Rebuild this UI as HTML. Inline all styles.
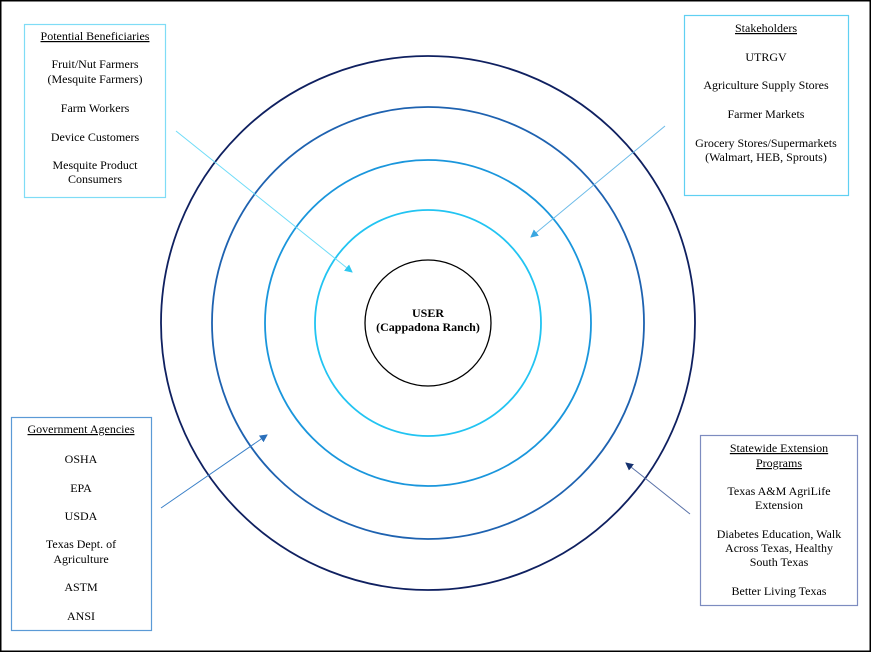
<!DOCTYPE html>
<html><head><meta charset="utf-8"><style>
html,body{margin:0;padding:0;background:#fff}
svg{display:block}
text{font-family:"Liberation Serif",serif;font-size:12px;fill:#000;text-anchor:middle}
</style></head><body>
<svg width="871" height="652" viewBox="0 0 871 652" xmlns="http://www.w3.org/2000/svg">
<defs>
<marker id="a1" markerWidth="8" markerHeight="8" refX="7" refY="4" orient="auto" markerUnits="userSpaceOnUse"><path d="M0,0 L8,4 L0,8 z" fill="#2fc8f0"/></marker>
<marker id="a2" markerWidth="8" markerHeight="8" refX="7" refY="4" orient="auto" markerUnits="userSpaceOnUse"><path d="M0,0 L8,4 L0,8 z" fill="#3aa6e0"/></marker>
<marker id="a3" markerWidth="8" markerHeight="8" refX="7" refY="4" orient="auto" markerUnits="userSpaceOnUse"><path d="M0,0 L8,4 L0,8 z" fill="#2a6fba"/></marker>
<marker id="a4" markerWidth="8" markerHeight="8" refX="7" refY="4" orient="auto" markerUnits="userSpaceOnUse"><path d="M0,0 L8,4 L0,8 z" fill="#14306e"/></marker>
</defs>
<rect x="0.75" y="0.75" width="869.5" height="650.5" fill="#fff" stroke="#000" stroke-width="1.5"/>
<circle cx="428" cy="323" r="267" fill="none" stroke="#0f2060" stroke-width="1.8"/>
<circle cx="428" cy="323" r="216" fill="none" stroke="#1e62b0" stroke-width="1.8"/>
<circle cx="428" cy="323" r="163" fill="none" stroke="#1a96dc" stroke-width="1.8"/>
<circle cx="428" cy="323" r="113" fill="none" stroke="#22c4f2" stroke-width="1.8"/>
<circle cx="428" cy="323" r="63" fill="none" stroke="#000" stroke-width="1.3"/>
<text x="428" y="317" font-weight="bold">USER</text>
<text x="428" y="331" font-weight="bold">(Cappadona Ranch)</text>

<line x1="176" y1="131" x2="352" y2="272" stroke="#6fdcf8" stroke-width="1" marker-end="url(#a1)"/>
<line x1="665" y1="126" x2="531" y2="237" stroke="#6cbbe8" stroke-width="1" marker-end="url(#a2)"/>
<line x1="161" y1="508" x2="267" y2="435" stroke="#3a80c8" stroke-width="1" marker-end="url(#a3)"/>
<line x1="690" y1="514" x2="626" y2="463" stroke="#5a72a8" stroke-width="1" marker-end="url(#a4)"/>

<rect x="24.5" y="24.5" width="141" height="173" fill="#fff" stroke="#7fdcf6" stroke-width="1.2"/>
<text x="95" y="40" text-decoration="underline">Potential Beneficiaries</text>
<text x="95" y="68">Fruit/Nut Farmers</text>
<text x="95" y="83">(Mesquite Farmers)</text>
<text x="95" y="112">Farm Workers</text>
<text x="95" y="141">Device Customers</text>
<text x="95" y="169">Mesquite Product</text>
<text x="95" y="183">Consumers</text>

<rect x="684.5" y="15.5" width="164" height="180" fill="#fff" stroke="#5fd0f2" stroke-width="1.2"/>
<text x="766" y="32" text-decoration="underline">Stakeholders</text>
<text x="766" y="61">UTRGV</text>
<text x="766" y="89">Agriculture Supply Stores</text>
<text x="766" y="118">Farmer Markets</text>
<text x="766" y="147">Grocery Stores/Supermarkets</text>
<text x="766" y="161">(Walmart, HEB, Sprouts)</text>

<rect x="11.5" y="417.5" width="140" height="213" fill="#fff" stroke="#5b9ad6" stroke-width="1.2"/>
<text x="81" y="433" text-decoration="underline">Government Agencies</text>
<text x="81" y="463">OSHA</text>
<text x="81" y="492">EPA</text>
<text x="81" y="520">USDA</text>
<text x="81" y="548">Texas Dept. of</text>
<text x="81" y="563">Agriculture</text>
<text x="81" y="591">ASTM</text>
<text x="81" y="620">ANSI</text>

<rect x="700.5" y="435.5" width="157" height="170" fill="#fff" stroke="#7d8cc0" stroke-width="1.2"/>
<text x="779" y="452" text-decoration="underline">Statewide Extension</text>
<text x="779" y="467" text-decoration="underline">Programs</text>
<text x="779" y="495">Texas A&amp;M AgriLife</text>
<text x="779" y="509">Extension</text>
<text x="779" y="538">Diabetes Education, Walk</text>
<text x="779" y="552">Across Texas, Healthy</text>
<text x="779" y="566">South Texas</text>
<text x="779" y="595">Better Living Texas</text>
</svg>
</body></html>
